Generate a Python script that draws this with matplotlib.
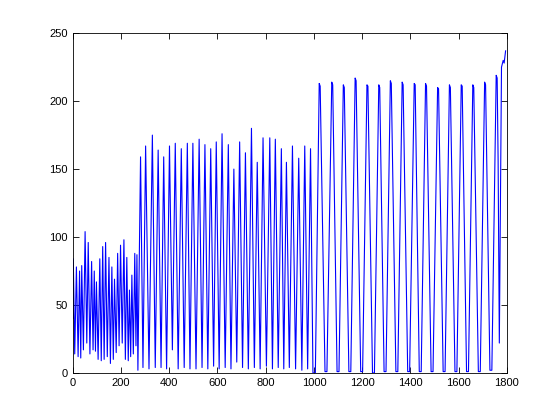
import numpy as np
import matplotlib
matplotlib.use('Agg')
import matplotlib.pyplot as plt

plt.rcParams['font.family'] = ['Liberation Sans', 'DejaVu Sans']

# fast, low oscillation at the start (alternating trough / peak vertices)
t_early = [1, 2, 8, 15, 22, 28, 33, 37, 44, 51, 58, 64, 71, 78, 84, 89, 94, 98, 105, 112,
           118, 124, 130, 136, 143, 150, 156, 162, 168, 173, 180, 186, 192, 198, 205, 212,
           218, 224, 230, 235, 240, 245, 251, 257, 262, 266, 270]
v_early = [40, 84, 14, 78, 12, 75, 11, 79, 17, 104, 22, 96, 14, 82, 17, 75, 16, 67, 10, 84,
           9, 93, 10, 96, 12, 85, 7, 78, 10, 69, 15, 88, 20, 94, 22, 98,
           10, 85, 9, 61, 12, 72, 14, 88, 20, 87, 2]

# middle part, peaks around 165
t_mid = [281, 291, 302, 316, 330, 342, 354, 366, 377, 389, 401, 413, 425, 437, 450, 462,
         475, 486, 498, 511, 524, 536, 548, 560, 572, 584, 595, 607, 619, 632, 645, 656,
         668, 680, 692, 704, 716, 728, 741, 753, 765, 777, 789, 803, 817, 828, 840, 852,
         865, 875, 886, 898, 911, 924, 937, 950, 962, 974, 986, 996, 1006]
v_mid = [159, 4, 167, 3, 175, 4, 164, 4, 159, 3, 167, 17, 169, 3, 165, 4,
         169, 3, 169, 3, 172, 4, 168, 3, 165, 5, 170, 3, 176, 4, 168, 3,
         150, 8, 170, 4, 162, 3, 180, 4, 155, 3, 173, 5, 173, 3, 172, 4,
         165, 3, 155, 4, 167, 3, 158, 2, 167, 3, 165, 0, 0]

# late part, peaks around 213 (tops and bottoms a little flat)
t_late = [1022, 1026, 1046, 1054, 1074, 1078, 1096, 1104, 1122, 1126, 1145, 1153,
          1171, 1175, 1194, 1202, 1220, 1224, 1243, 1251, 1269, 1273, 1291, 1299,
          1317, 1321, 1340, 1348, 1366, 1370, 1389, 1397, 1416, 1420, 1437, 1445,
          1463, 1467, 1486, 1494, 1513, 1517, 1536, 1544, 1562, 1566, 1585, 1593,
          1611, 1615, 1633, 1641, 1659, 1663, 1682, 1690, 1708, 1712, 1730, 1738,
          1756, 1760, 1764, 1769, 1778, 1785, 1789, 1795]
v_late = [213, 211, 1, 1, 214, 212, 1, 1, 212, 210, 1, 1,
          217, 215, 1, 1, 212, 211, 0, 0, 212, 210, 1, 1,
          215, 213, 1, 1, 214, 212, 1, 1, 213, 212, 1, 1,
          213, 211, 1, 1, 210, 209, 1, 1, 212, 210, 1, 1,
          212, 211, 1, 1, 212, 210, 1, 1, 214, 212, 2, 2,
          219, 217, 156, 22, 225, 230, 228, 237]

t = np.array(t_early + t_mid + t_late)
v = np.array(v_early + v_mid + v_late)

fig = plt.figure(figsize=(5.6, 4.2), dpi=100)
ax = fig.add_axes([0.130, 0.112, 0.775, 0.809])
ax.plot(t, v, color='#0000ff', linewidth=0.8)
ax.set_xlim(0, 1800)
ax.set_ylim(0, 250)
ax.set_xticks(np.arange(0, 1801, 200))
ax.set_yticks(np.arange(0, 251, 50))
ax.tick_params(direction='in', length=4, width=0.6, labelsize=8, top=True, right=True)
for s in ax.spines.values():
    s.set_linewidth(0.6)

fig.savefig('out.png', dpi=100)
